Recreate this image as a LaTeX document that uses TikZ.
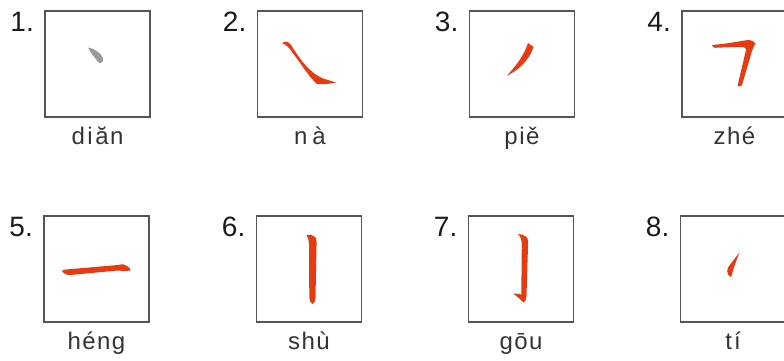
\documentclass[tikz,border=0pt]{standalone}
\usepackage{fontspec}
\setmainfont{Liberation Sans}
\newfontfamily\labfont[LetterSpace=6]{Liberation Sans}
\usetikzlibrary{calc}
\definecolor{strokered}{HTML}{E83A10}
\definecolor{dotgray}{HTML}{9A9A9A}
\definecolor{boxgray}{HTML}{555555}
\definecolor{txtgray}{HTML}{333333}
\definecolor{numblack}{HTML}{1A1A1A}
\tikzset{
  cell/.style={draw=boxgray, line width=1.3pt, minimum width=105pt, minimum height=106pt, inner sep=0pt, outer sep=0pt},
  num/.style={font=\fontsize{28}{30}\selectfont, text=numblack, inner sep=0pt, anchor=base east},
  lab/.style={font=\labfont\fontsize{24}{26}\selectfont, text=txtgray, inner sep=0pt, anchor=base},
  redstroke/.style={fill=strokered, draw=none},
  graystroke/.style={fill=dotgray, draw=none}
}
\begin{document}
\begin{tikzpicture}[x=1pt,y=1pt]
\useasboundingbox (0,0) rectangle (784,-361);
% boxes
\node[cell] (b1) at (97.5,-64) {};
\node[cell] (b2) at (310,-64) {};
\node[cell] (b3) at (522,-64) {};
\node[cell] (b4) at (734.5,-64) {};
\node[cell] (b5) at (96.5,-269) {};
\node[cell] (b6) at (309,-269) {};
\node[cell] (b7) at (521,-269) {};
\node[cell] (b8) at (733,-269) {};
% numbers
\foreach \i in {1,...,8}{
  \node[num] (n\i) at ($(b\i.north west)+(-11,-20.5)$) {\i.};
}
% labels
\node[lab] (l1) at ($(b1.south)+(0,-27)$) {d\kern2.5pt i\kern2.5pt ăn};
\node[lab] (l2) at ($(b2.south)+(0,-27)$) {n\kern5pt à};
\node[lab] (l3) at ($(b3.south)+(0,-27)$) {p\kern1.5pt i\kern1.5pt ě};
\node[lab] (l4) at ($(b4.south)+(0,-27)$) {zhé};
\node[lab] (l5) at ($(b5.south)+(0,-27)$) {héng};
\node[lab] (l6) at ($(b6.south)+(0,-27)$) {shù};
\node[lab] (l7) at ($(b7.south)+(0,-27)$) {gōu};
\node[lab] (l8) at ($(b8.south)+(0,-27)$) {t\kern2pt í};
% 1 dian
\fill[graystroke] (88,-47.5) .. controls (92,-48) and (101,-52) .. (103,-58)
  .. controls (104,-62) and (100.5,-64.5) .. (98,-62)
  .. controls (95,-58) and (90,-52) .. (88,-47.5) -- cycle;
% 2 na
\fill[redstroke] (282,-43) .. controls (285,-41) and (288,-41) .. (291,-45)
  .. controls (298,-56) and (308,-72) .. (322,-78)
  .. controls (327,-80) and (332,-81) .. (336,-82.5)
  .. controls (330,-84) and (322,-84.5) .. (317,-84)
  .. controls (308,-76) and (300,-62) .. (292,-52)
  .. controls (289,-47) and (286,-45) .. (282,-43) -- cycle;
% 3 pie
\fill[redstroke] (528,-43) -- (533.5,-47) .. controls (530,-58) and (520,-70) .. (507,-75.5)
  .. controls (515,-67) and (524,-56) .. (528,-43) -- cycle;
% 4 zhe
\fill[redstroke] (712,-45) .. controls (725,-44) and (738,-41.5) .. (748,-40)
  .. controls (751,-39.5) and (753,-41) .. (755.5,-43.5)
  .. controls (754,-46) and (753,-48) .. (752,-51) -- (742,-85)
  .. controls (741,-86.5) and (739,-87) .. (737.5,-86) -- (746,-50)
  .. controls (746.5,-48.5) and (745,-47.5) .. (743,-47)
  .. controls (733,-47) and (722,-47.5) .. (715,-47.8)
  .. controls (713.5,-47.5) and (712,-46.5) .. (712,-45) -- cycle;
% 5 heng
\fill[redstroke] (62,-271) .. controls (62,-270) and (64,-269.5) .. (66,-269.5) -- (118,-265)
  .. controls (122,-264) and (125,-264) .. (127,-266)
  .. controls (129,-267) and (131,-269) .. (130.5,-270.5)
  .. controls (127,-271) and (122,-271) .. (118,-270.5) -- (70,-275)
  .. controls (67,-275.5) and (63,-273) .. (62,-271) -- cycle;
% 6 shu
\fill[redstroke] (306.5,-235) .. controls (309,-234) and (312,-235) .. (315,-237)
  .. controls (316.5,-238) and (316.8,-242) .. (316.5,-246) -- (315.5,-298)
  .. controls (315,-302) and (313.5,-304) .. (312.5,-304)
  .. controls (310,-303) and (309.5,-300) .. (309.3,-297) -- (309,-245)
  .. controls (309,-240) and (308,-237.5) .. (306.5,-235) -- cycle;
% 7 gou
\fill[redstroke] (518,-234) .. controls (521,-234) and (524,-235) .. (526.5,-237)
  .. controls (528,-238.5) and (528.3,-242) .. (528,-246) -- (526.5,-296)
  .. controls (526,-300) and (525,-302.5) .. (523.5,-302.5)
  .. controls (520,-299) and (516,-295.5) .. (513,-293.5)
  .. controls (516,-293.5) and (519,-293.8) .. (521.3,-294.5) -- (521.8,-244)
  .. controls (521.6,-240) and (520.5,-236) .. (518,-234) -- cycle;
% 8 ti
\fill[redstroke] (739.5,-252.5) .. controls (736,-257) and (731,-263) .. (728,-267.5)
  .. controls (726.5,-270) and (727,-273) .. (728.5,-275)
  .. controls (729.5,-276.5) and (730.5,-277) .. (731.3,-276.5)
  .. controls (733.5,-268) and (736.5,-260) .. (739.5,-252.5) -- cycle;
\end{tikzpicture}
\end{document}
